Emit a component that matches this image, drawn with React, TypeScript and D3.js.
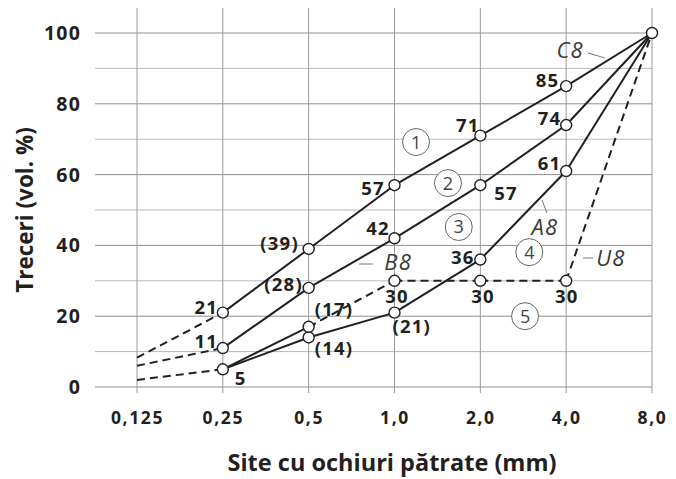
import React, { useEffect, useRef } from "react";
import * as d3 from "d3";

// site (mm) si etichetele lor
const sieves = [0.125, 0.25, 0.5, 1, 2, 4, 8];
const sieveLabels = ["0,125", "0,25", "0,5", "1,0", "2,0", "4,0", "8,0"];
const yTicks = [0, 20, 40, 60, 80, 100];
const yMinor = [10, 30, 50, 70, 90];

// treceri (vol. %) - prima valoare e prelungirea punctata spre 0,125
const c8 = [8.3, 21, 39, 57, 71, 85, 100];
const b8 = [6, 11, 28, 42, 57, 74, 100];
const a8 = [2, 5, 14, 21, 36, 61, 100];
const u8 = [null, 5, 17, 30, 30, 30, 100];

const c8Labels = ["", "21", "(39)", "57", "71", "85", ""];
const b8Labels = ["", "11", "(28)", "42", "57", "74", ""];
const a8Labels = ["", "5", "(14)", "(21)", "36", "61", ""];
const u8Labels = ["", "", "(17)", "30", "30", "30", ""];

const curveNames = ["C8", "B8", "A8", "U8"];
const zoneNames = ["1", "2", "3", "4", "5"];

type Off = [number, number, string] | null;

const W = 676;
const H = 479;

const App = () => {
  const svgRef = useRef<SVGSVGElement>(null);

  useEffect(() => {
    const svg = d3.select(svgRef.current);
    svg.selectAll("*").remove();

    const x = d3.scaleLog().base(2).domain([0.125, 8]).range([137, 652]);
    const y = d3.scaleLinear().domain([0, 100]).range([387, 33]);

    const font = "'Open Sans', 'DejaVu Sans', sans-serif";
    const ink = "#231f20";

    // grila
    const grid = svg.append("g");
    grid.selectAll("line.h")
      .data(yTicks.concat(yMinor))
      .enter()
      .append("line")
      .attr("x1", 95)
      .attr("x2", x(8))
      .attr("y1", (d) => y(d))
      .attr("y2", (d) => y(d))
      .style("stroke", (d) => (d % 20 === 0 ? "#8f8f8f" : "#b8b8b8"))
      .style("stroke-width", 1);
    grid.selectAll("line.v")
      .data(sieves)
      .enter()
      .append("line")
      .attr("x1", (d) => x(d))
      .attr("x2", (d) => x(d))
      .attr("y1", 8)
      .attr("y2", 393)
      .style("stroke", "#9a9a9a")
      .style("stroke-width", 1);

    // axe - etichete
    svg.append("g")
      .selectAll("text")
      .data(yTicks)
      .enter()
      .append("text")
      .attr("x", 81)
      .attr("y", (d) => y(d) + 7)
      .attr("text-anchor", "end")
      .style("font", `bold 19.5px ${font}`)
      .style("letter-spacing", "1.2px")
      .style("fill", ink)
      .text((d) => d);

    svg.append("g")
      .selectAll("text")
      .data(sieves)
      .enter()
      .append("text")
      .attr("x", (d) => x(d) + 0.5)
      .attr("y", 424)
      .attr("text-anchor", "middle")
      .style("font", `bold 17.5px ${font}`)
      .style("letter-spacing", "1.6px")
      .style("fill", ink)
      .text((d, i) => sieveLabels[i]);

    svg.append("text")
      .attr("x", 392)
      .attr("y", 471)
      .attr("text-anchor", "middle")
      .style("font", `bold 23.5px ${font}`)
      .style("fill", ink)
      .text("Site cu ochiuri pătrate (mm)");

    svg.append("text")
      .attr("transform", "translate(33,210) rotate(-90)")
      .attr("text-anchor", "middle")
      .style("font", `bold 22.5px ${font}`)
      .style("fill", ink)
      .text("Treceri (vol. %)");

    // curbe
    const series = [
      { values: c8, labels: c8Labels, dashed: [0] },
      { values: b8, labels: b8Labels, dashed: [0] },
      { values: a8, labels: a8Labels, dashed: [0] },
      { values: u8, labels: u8Labels, dashed: [2, 3, 4, 5] },
    ];

    const offsets: Off[][] = [
      [null, [-6, 1, "end"], [-11, 1, "end"], [-11, 9, "end"], [-2, -4, "end"], [-8, 0, "end"], null],
      [null, [-6, -1, "end"], [-7, 3, "end"], [-6, -4, "end"], [14, 14, "start"], [-6, -1, "end"], null],
      [null, [12, 15, "start"], [6, 17, "start"], [-2, 20, "start"], [-7, 4, "end"], [-6, -2, "end"], null],
      [null, null, [6, -11, "start"], [2, 22, "middle"], [2, 22, "middle"], [0, 22, "middle"], null],
    ];

    const lines = svg.append("g");
    series.forEach((s) => {
      for (let i = 0; i < sieves.length - 1; i++) {
        const v0 = s.values[i];
        const v1 = s.values[i + 1];
        if (v0 == null || v1 == null) continue;
        lines.append("line")
          .attr("x1", x(sieves[i]))
          .attr("y1", y(v0))
          .attr("x2", x(sieves[i + 1]))
          .attr("y2", y(v1))
          .style("stroke", ink)
          .style("stroke-width", 2)
          .style("stroke-dasharray", s.dashed.includes(i) ? "8,5" : null);
      }
    });

    // puncte
    const pts: [number, number][] = [];
    series.forEach((s) => {
      s.values.forEach((v, i) => {
        if (i === 0 || v == null) return;
        if (pts.some((p) => p[0] === sieves[i] && p[1] === v)) return;
        pts.push([sieves[i], v]);
      });
    });
    svg.append("g")
      .selectAll("circle")
      .data(pts)
      .enter()
      .append("circle")
      .attr("cx", (d) => x(d[0]))
      .attr("cy", (d) => y(d[1]))
      .attr("r", 5.5)
      .style("fill", "white")
      .style("stroke", ink)
      .style("stroke-width", 1.4);

    // valori
    const vals = svg.append("g");
    series.forEach((s, si) => {
      s.labels.forEach((t, i) => {
        const o = offsets[si][i];
        const v = s.values[i];
        if (!t || !o || v == null) return;
        const sp = 1.2;
        const shift = o[2] === "end" ? sp : o[2] === "middle" ? sp / 2 : 0;
        vals.append("text")
          .attr("x", x(sieves[i]) + o[0] + shift)
          .attr("y", y(v) + o[1] + 0.5)
          .attr("text-anchor", o[2])
          .style("font", `bold 18.5px ${font}`)
          .style("letter-spacing", `${sp}px`)
          .style("fill", ink)
          .text(t);
      });
    });

    // denumiri curbe (pozitie in unitatile graficului + linie de legatura)
    const namePos = [[4.13, 95.2], [1.03, 35.4], [3.37, 45.2], [5.74, 36.4]];
    const leads = [
      [[588, 53], [605, 58]],
      [[359, 264], [373, 264]],
      [[542, 200], [547, 213]],
      [[583, 258], [593, 258]],
    ];
    curveNames.forEach((n, i) => {
      svg.append("line")
        .attr("x1", leads[i][0][0])
        .attr("y1", leads[i][0][1])
        .attr("x2", leads[i][1][0])
        .attr("y2", leads[i][1][1])
        .style("stroke", "#777")
        .style("stroke-width", 1);
      svg.append("text")
        .attr("x", x(namePos[i][0]))
        .attr("y", y(namePos[i][1]) + 8)
        .attr("text-anchor", "middle")
        .style("font", `italic 22px ${font}`)
        .style("letter-spacing", "1.2px")
        .style("fill", "#3a3a3a")
        .text(n);
    });

    // zone numerotate
    const zonePos = [[1.19, 69.2], [1.54, 57.6], [1.68, 45.2], [2.97, 38.1], [2.87, 20]];
    const zones = svg.append("g")
      .selectAll("g")
      .data(zoneNames)
      .enter()
      .append("g")
      .attr("transform", (d, i) => `translate(${x(zonePos[i][0])},${y(zonePos[i][1])})`);
    zones.append("circle")
      .attr("r", 13.5)
      .style("fill", "white")
      .style("stroke", "#666")
      .style("stroke-width", 1);
    zones.append("text")
      .attr("y", 6.5)
      .attr("text-anchor", "middle")
      .style("font", `18px ${font}`)
      .style("fill", "#444")
      .text((d) => d);
  }, []);

  return (
    <svg
      ref={svgRef}
      width={W}
      height={H}
      style={{ position: "absolute", left: 0, top: 0, background: "white" }}
    />
  );
};

export default App;
